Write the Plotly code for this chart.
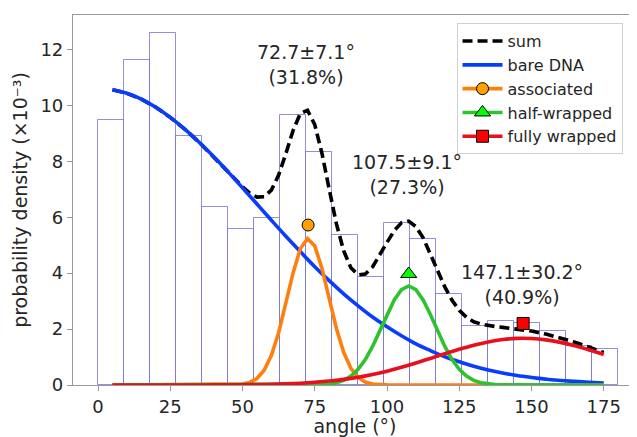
import plotly.graph_objects as go

# ---------------- data ----------------
bin_starts = [0, 9, 18, 27, 36, 45, 54, 63, 72, 81, 90, 99, 108, 117, 126, 135, 144, 153, 162, 171]
bin_width = 9
hist_density = [9.47, 11.62, 12.59, 8.90, 6.36, 5.58, 5.97, 9.66, 8.32, 5.38, 3.85, 5.78,
                5.22, 3.25, 2.11, 2.29, 2.22, 1.93, 1.39, 1.29]

x_bare = [5, 10, 15, 20, 25, 30, 35, 40, 45, 50, 55, 60, 65, 70, 75, 80, 85, 90, 95, 100,
          105, 110, 115, 120, 125, 130, 135, 140, 145, 150, 155, 160, 165, 170, 175]
y_bare = [10.56, 10.43, 10.22, 9.93, 9.57, 9.15, 8.68, 8.17, 7.62, 7.05, 6.47, 5.89, 5.32,
          4.77, 4.23, 3.73, 3.26, 2.83, 2.43, 2.08, 1.76, 1.47, 1.23, 1.01, 0.83, 0.67,
          0.54, 0.43, 0.34, 0.27, 0.21, 0.16, 0.13, 0.10, 0.07]

x_assoc = [5, 45, 47.5, 50, 52.5, 55, 57.5, 60, 62.5, 65, 67.5, 70, 72.5, 75, 77.5, 80,
           82.5, 85, 87.5, 90, 92.5, 95, 97.5, 100, 175]
y_assoc = [0.0, 0.003, 0.010, 0.032, 0.092, 0.234, 0.530, 1.058, 1.867, 2.910, 4.008, 4.874,
           5.238, 4.972, 4.169, 3.088, 2.021, 1.168, 0.597, 0.269, 0.107, 0.038, 0.012,
           0.003, 0.0]

x_half = [5, 75, 77.5, 80, 82.5, 85, 87.5, 90, 92.5, 95, 97.5, 100, 102.5, 105, 107.5, 110,
          112.5, 115, 117.5, 120, 122.5, 125, 127.5, 130, 132.5, 135, 137.5, 140, 175]
y_half = [0.0, 0.006, 0.015, 0.037, 0.081, 0.166, 0.316, 0.557, 0.910, 1.378, 1.935, 2.520,
          3.044, 3.409, 3.540, 3.409, 3.044, 2.520, 1.935, 1.378, 0.910, 0.557, 0.316,
          0.166, 0.081, 0.037, 0.015, 0.006, 0.0]

x_full = [5, 10, 15, 20, 25, 30, 35, 40, 45, 50, 55, 60, 65, 70, 75, 80, 85, 90, 95, 100,
          105, 110, 115, 120, 125, 130, 135, 140, 145, 150, 155, 160, 165, 170, 175]
y_full = [0.0, 0.0, 0.0, 0.0, 0.0, 0.001, 0.002, 0.003, 0.006, 0.010, 0.016, 0.026, 0.041,
          0.064, 0.097, 0.141, 0.202, 0.280, 0.377, 0.495, 0.632, 0.785, 0.949, 1.117,
          1.278, 1.423, 1.541, 1.624, 1.666, 1.662, 1.614, 1.524, 1.401, 1.253, 1.090]

x_sum = [5, 10, 15, 20, 25, 30, 35, 40, 45, 47.5, 50, 52.5, 55, 57.5, 60, 62.5, 65, 67.5,
         70, 72.5, 75, 77.5, 80, 82.5, 85, 87.5, 90, 92.5, 95, 97.5, 100, 102.5, 105,
         107.5, 110, 112.5, 115, 117.5, 120, 122.5, 125, 127.5, 130, 132.5, 135, 137.5,
         140, 145, 150, 155, 160, 165, 170, 175]
y_sum = [10.56, 10.43, 10.22, 9.93, 9.57, 9.15, 8.68, 8.17, 7.63, 7.36, 7.09, 6.86, 6.72,
         6.73, 6.97, 7.51, 8.27, 9.10, 9.71, 9.82, 9.31, 8.28, 7.00, 5.76, 4.80, 4.19,
         3.94, 3.97, 4.22, 4.63, 5.10, 5.52, 5.80, 5.86, 5.66, 5.26, 4.70, 4.09, 3.51,
         3.03, 2.67, 2.42, 2.26, 2.18, 2.12, 2.09, 2.06, 2.01, 1.93, 1.82, 1.68, 1.53,
         1.35, 1.16]

peak_x = [72.7, 107.5, 147.1]
marker_y = [5.72, 3.97, 2.20]
peak_labels = ["72.7±7.1°<br>(31.8%)", "107.5±9.1°<br>(27.3%)", "147.1±30.2°<br>(40.9%)"]
label_x = [72.0, 107.0, 146.8]
label_y = [11.46, 7.52, 3.60]

series_names = ["sum", "bare DNA", "associated", "half-wrapped", "fully wrapped"]

# ---------------- styling ----------------
FONT = "DejaVu Sans"
TXT = "#262626"
C_BLUE = "#0a3cff"
C_ORANGE = "#ff7f0e"
C_GREEN = "#2fc22f"
C_RED = "#e8101c"
LW = 3.6
FS = 19

fig = go.Figure()

fig.add_trace(go.Bar(
    x=[s + bin_width / 2 for s in bin_starts], y=hist_density, width=bin_width,
    marker=dict(color="white", line=dict(color="rgba(85,85,205,0.65)", width=1)),
    showlegend=False, hoverinfo="skip"))

# sum drawn first so the components lie on top of it
fig.add_trace(go.Scatter(x=x_sum, y=y_sum, mode="lines", name=series_names[0],
                         line=dict(color="black", width=LW, dash="10px,5px"),
                         legendrank=1))

fig.add_trace(go.Scatter(x=x_bare, y=y_bare, mode="lines", name=series_names[1],
                         line=dict(color=C_BLUE, width=LW, shape="spline"), legendrank=2))

fig.add_trace(go.Scatter(x=x_assoc, y=y_assoc, mode="lines", showlegend=False,
                         line=dict(color=C_ORANGE, width=LW)))
fig.add_trace(go.Scatter(x=x_half, y=y_half, mode="lines", showlegend=False,
                         line=dict(color=C_GREEN, width=LW)))
fig.add_trace(go.Scatter(x=x_full, y=y_full, mode="lines", showlegend=False,
                         line=dict(color=C_RED, width=LW, shape="spline")))

marker_specs = [
    (series_names[2], C_ORANGE, "circle", "#ffa000", 3, 12),
    (series_names[3], C_GREEN, "triangle-up", "#00ff00", 4, 14),
    (series_names[4], C_RED, "square", "#ff0000", 5, 12),
]
for i, (nm, lc, sym, fc, rk, sz) in enumerate(marker_specs):
    fig.add_trace(go.Scatter(
        x=[peak_x[i]], y=[marker_y[i]], mode="lines+markers", name=nm,
        line=dict(color=lc, width=LW),
        marker=dict(symbol=sym, size=sz, color=fc, line=dict(color="black", width=1)),
        legendrank=rk, cliponaxis=False))

for tx, ty, tt in zip(label_x, label_y, peak_labels):
    fig.add_annotation(x=tx, y=ty, text=tt, showarrow=False, xanchor="center",
                       yanchor="middle", font=dict(family=FONT, size=FS, color=TXT))

axis_common = dict(showgrid=False, zeroline=False, showline=True, linecolor="#9a9a9a",
                   linewidth=1.2, ticks="outside", ticklen=5, tickcolor="#9a9a9a",
                   automargin=False,
                   tickfont=dict(family=FONT, size=18, color=TXT))

# the page body adds an 8px offset, so the figure is 8px smaller and margins compensate
fig.update_layout(
    width=629, height=429,
    margin=dict(l=65, r=0, t=7, b=52, autoexpand=False),
    plot_bgcolor="white", paper_bgcolor="white",
    font=dict(family=FONT, color=TXT),
    bargap=0,
    xaxis=dict(range=[-8.65, 186.5], tickvals=[0, 25, 50, 75, 100, 125, 150, 175],
               mirror=True,
               title=dict(text="angle (°)", font=dict(family=FONT, size=FS, color=TXT),
                          standoff=3),
               **axis_common),
    yaxis=dict(range=[0, 13.23], tickvals=[0, 2, 4, 6, 8, 10, 12],
               title=dict(text="probability density (×10⁻³)",
                          font=dict(family=FONT, size=FS, color=TXT), standoff=7),
               **axis_common),
    legend=dict(x=0.68, y=0.978, xanchor="left", yanchor="top",
                bgcolor="rgba(255,255,255,0.85)", bordercolor="#d0d0d0", borderwidth=1,
                font=dict(family=FONT, size=16, color=TXT), itemwidth=40,
                traceorder="normal", tracegroupgap=0),
)

fig.write_html("out.html")
